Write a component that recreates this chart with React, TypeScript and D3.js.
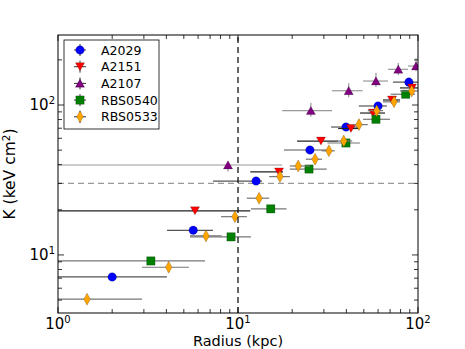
import React, { useRef, useEffect } from "react";
import * as d3 from "d3";

// radius (kpc), entropy K (keV cm^2), and the ends of the radius error bars
const a2029Radius = [2.0, 5.64, 12.6, 25.1, 39.8, 60, 89];
const a2029K = [7.13, 14.6, 31.1, 50.1, 71.3, 98.5, 142];
const a2029RLo = [0.5, 4.03, 7.26, 18.0, 32.9, 46.9, 72.6];
const a2029RHi = [4.03, 7.26, 13.6, 32.5, 46.4, 67.2, 120];

const a2151Radius = [5.77, 16.9, 28.9, 42.4, 56.2, 71.7, 92.6];
const a2151K = [19.7, 35.8, 57.5, 69.7, 88.4, 108, 130];
const a2151RLo = [0.5, 11.7, 21.3, 36, 47.6, 63.9, 79.4];
const a2151RHi = [11.7, 17.8, 35.9, 47.6, 65.6, 79.4, 110];

const a2107Radius = [8.8, 25.4, 41.2, 58.4, 77.7, 97.5];
const a2107K = [39.8, 91.6, 124.5, 144.5, 173, 182];
const a2107RLo = [0.5, 17.6, 33.3, 49.5, 68.1, 88];
const a2107RHi = [17.6, 33.3, 49.3, 68.1, 88, 115];
const a2107KLo = [36.0, 83.6, 112.6, 132, 158.5, 168];
const a2107KHi = [41.9, 103.6, 139.5, 164, 190.5, 205];

const rbs0540Radius = [3.28, 9.15, 15.2, 24.8, 39.8, 58.4, 85.4];
const rbs0540K = [9.12, 13.2, 20.3, 37.4, 55.8, 80.3, 118];
const rbs0540RLo = [0.5, 5.41, 11.8, 19.4, 31.4, 49.5, 70.5];
const rbs0540RHi = [6.56, 11.8, 18.6, 31.1, 47.6, 69.9, 96.2];

const rbs0533Radius = [1.45, 4.12, 6.64, 9.62, 13.1, 17.1, 21.6, 26.8, 32.0, 38.7, 47, 59, 73.6, 92.3];
const rbs0533K = [5.07, 8.28, 13.4, 18.0, 23.9, 33.3, 39.2, 43.5, 49.5, 57.5, 74, 91.7, 105, 124];
const rbs0533RLo = [0.5, 2.93, 5.41, 8.05, 11.2, 14.9, 19.4, 23.8, 29.1, 34.9, 43.5, 52.6, 63.9, 79.4];
const rbs0533RHi = [2.93, 5.34, 8.12, 11.2, 14.9, 19.4, 25.1, 29.3, 34.5, 43.1, 52.6, 63.9, 79.4, 110];

const xMajor = [1, 10, 100];
const xMinor = [2, 3, 4, 5, 6, 7, 8, 9, 20, 30, 40, 50, 60, 70, 80, 90];
const yMajor = [10, 100];
const yMinor = [5, 6, 7, 8, 9, 20, 30, 40, 50, 60, 70, 80, 90, 200];
const radiusCut = 10;
const entropyCut = 30;

const FONT = "DejaVu Sans, sans-serif";

const shapes = {
  circle: "M4.3,0A4.3,4.3,0,1,1,-4.3,0A4.3,4.3,0,1,1,4.3,0Z",
  down: "M0,4L4.6,-4L-4.6,-4Z",
  up: "M0,-4.3L4.6,3.9L-4.6,3.9Z",
  square: "M-4.2,-4.2H4.2V4.2H-4.2Z",
  thin: "M0,-6L3.3,0L0,6L-3.3,0Z",
};

const series = [
  { name: "A2029", r: a2029Radius, k: a2029K, lo: a2029RLo, hi: a2029RHi, kLo: null, kHi: null, color: "#0000ff", ecolor: "#555", shape: shapes.circle },
  { name: "A2151", r: a2151Radius, k: a2151K, lo: a2151RLo, hi: a2151RHi, kLo: null, kHi: null, color: "#ff0000", ecolor: "#222", shape: shapes.down },
  { name: "A2107", r: a2107Radius, k: a2107K, lo: a2107RLo, hi: a2107RHi, kLo: a2107KLo, kHi: a2107KHi, color: "#800080", ecolor: "#999", shape: shapes.up },
  { name: "RBS0540", r: rbs0540Radius, k: rbs0540K, lo: rbs0540RLo, hi: rbs0540RHi, kLo: null, kHi: null, color: "#008000", ecolor: "#777", shape: shapes.square },
  { name: "RBS0533", r: rbs0533Radius, k: rbs0533K, lo: rbs0533RLo, hi: rbs0533RHi, kLo: null, kHi: null, color: "#ffa500", ecolor: "#777", shape: shapes.thin },
];

const EntropyProfile = () => {
  const svgRef = useRef(null);

  useEffect(() => {
    const width = 465;
    const height = 349;
    const margin = { top: 35, right: 47, bottom: 36, left: 58 };

    const svg = d3.select(svgRef.current);
    svg.selectAll("*").remove();
    svg.attr("width", width).attr("height", height).attr("viewBox", `0 0 ${width} ${height}`);

    const x = d3.scaleLog().domain([1, 100]).range([margin.left, width - margin.right]);
    const y = d3.scaleLog().domain([4.1, 293]).range([height - margin.bottom, margin.top]);
    const [x0, x1] = x.range();
    const [y0, y1] = y.range();

    svg.append("rect").attr("width", width).attr("height", height).attr("fill", "white");

    svg.append("defs").append("clipPath").attr("id", "plot-clip")
      .append("rect").attr("x", x0).attr("y", y1).attr("width", x1 - x0).attr("height", y0 - y1);

    const plot = svg.append("g").attr("clip-path", "url(#plot-clip)");

    // reference lines
    plot.append("line")
      .attr("x1", x0).attr("x2", x1).attr("y1", y(entropyCut)).attr("y2", y(entropyCut))
      .attr("stroke", "#999").attr("stroke-width", 1.2).attr("stroke-dasharray", "6,4");

    series.forEach((s) => {
      const pts = s.r.map((r, i) => ({ r, k: s.k[i], lo: s.lo[i], hi: s.hi[i], kLo: s.kLo ? s.kLo[i] : null, kHi: s.kHi ? s.kHi[i] : null }));
      const g = plot.append("g");
      g.selectAll("line.xerr").data(pts).join("line")
        .attr("class", "xerr")
        .attr("x1", (d) => x(d.lo)).attr("x2", (d) => x(d.hi))
        .attr("y1", (d) => y(d.k)).attr("y2", (d) => y(d.k))
        .attr("stroke", s.ecolor).attr("stroke-width", 1.2);
      g.selectAll("line.yerr").data(pts.filter((d) => d.kLo !== null)).join("line")
        .attr("class", "yerr")
        .attr("x1", (d) => x(d.r)).attr("x2", (d) => x(d.r))
        .attr("y1", (d) => y(d.kLo)).attr("y2", (d) => y(d.kHi))
        .attr("stroke", s.ecolor).attr("stroke-width", 1.2);
      g.selectAll("path").data(pts).join("path")
        .attr("d", s.shape)
        .attr("transform", (d) => `translate(${x(d.r)},${y(d.k)})`)
        .attr("fill", s.color).attr("stroke", "#000").attr("stroke-width", 0.4).attr("stroke-opacity", 0.5);
    });

    plot.append("line")
      .attr("x1", x(radiusCut)).attr("x2", x(radiusCut)).attr("y1", y0).attr("y2", y1)
      .attr("stroke", "#000").attr("stroke-width", 1.2).attr("stroke-dasharray", "6,4");

    // ticks on all four sides, pointing inward
    const tickG = svg.append("g").attr("stroke", "#000").attr("stroke-width", 0.8);
    const addXTicks = (vals, len) => {
      vals.forEach((v) => {
        tickG.append("line").attr("x1", x(v)).attr("x2", x(v)).attr("y1", y0).attr("y2", y0 - len);
        tickG.append("line").attr("x1", x(v)).attr("x2", x(v)).attr("y1", y1).attr("y2", y1 + len);
      });
    };
    const addYTicks = (vals, len) => {
      vals.forEach((v) => {
        tickG.append("line").attr("y1", y(v)).attr("y2", y(v)).attr("x1", x0).attr("x2", x0 + len);
        tickG.append("line").attr("y1", y(v)).attr("y2", y(v)).attr("x1", x1).attr("x2", x1 - len);
      });
    };
    addXTicks(xMajor, 6);
    addXTicks(xMinor, 4);
    addYTicks(yMajor, 6);
    addYTicks(yMinor, 4);

    svg.append("rect")
      .attr("x", x0).attr("y", y1).attr("width", x1 - x0).attr("height", y0 - y1)
      .attr("fill", "none").attr("stroke", "#000").attr("stroke-width", 1);

    // tick labels as 10^n
    const powLabel = (sel, v) => {
      sel.append("tspan").text("10");
      sel.append("tspan").attr("dy", -6).attr("font-size", 10).text(String(Math.round(Math.log10(v))));
    };
    xMajor.forEach((v) => {
      const t = svg.append("text").attr("x", x(v)).attr("y", y0 + 16)
        .attr("text-anchor", "middle").attr("font-family", FONT).attr("font-size", 15).attr("fill", "#000");
      powLabel(t, v);
    });
    yMajor.forEach((v) => {
      const t = svg.append("text").attr("x", x0 - 3).attr("y", y(v) + 5)
        .attr("text-anchor", "end").attr("font-family", FONT).attr("font-size", 15).attr("fill", "#000");
      powLabel(t, v);
    });

    svg.append("text")
      .attr("x", (x0 + x1) / 2).attr("y", height - 3.5)
      .attr("text-anchor", "middle").attr("font-family", FONT).attr("font-size", 14.5)
      .text("Radius (kpc)");

    const yl = svg.append("text")
      .attr("transform", `translate(15,${(y0 + y1) / 2}) rotate(-90)`)
      .attr("text-anchor", "middle").attr("font-family", FONT).attr("font-size", 15.5);
    yl.append("tspan").text("K (keV cm");
    yl.append("tspan").attr("dy", -5).attr("font-size", 10.5).text("2");
    yl.append("tspan").attr("dy", 5).text(")");

    // legend
    const lg = svg.append("g").attr("transform", "translate(64,40)");
    lg.append("rect").attr("width", 95).attr("height", 89)
      .attr("fill", "white").attr("stroke", "#000").attr("stroke-width", 0.8);
    series.forEach((s, i) => {
      const row = lg.append("g").attr("transform", `translate(16,${10 + i * 16.7})`);
      row.append("line").attr("x1", -6).attr("x2", 6).attr("stroke", "#333").attr("stroke-width", 1);
      row.append("line").attr("y1", -6).attr("y2", 6).attr("stroke", "#333").attr("stroke-width", 1);
      row.append("path").attr("d", s.shape).attr("fill", s.color)
        .attr("stroke", "#000").attr("stroke-width", 0.4).attr("stroke-opacity", 0.5);
      row.append("text").attr("x", 21).attr("y", 4.5)
        .attr("font-family", FONT).attr("font-size", 12.5).text(s.name);
    });
  }, []);

  return <svg ref={svgRef} style={{ display: "block", position: "absolute", left: 0, top: 0 }}></svg>;
};

export default function App() {
  return <EntropyProfile />;
}
